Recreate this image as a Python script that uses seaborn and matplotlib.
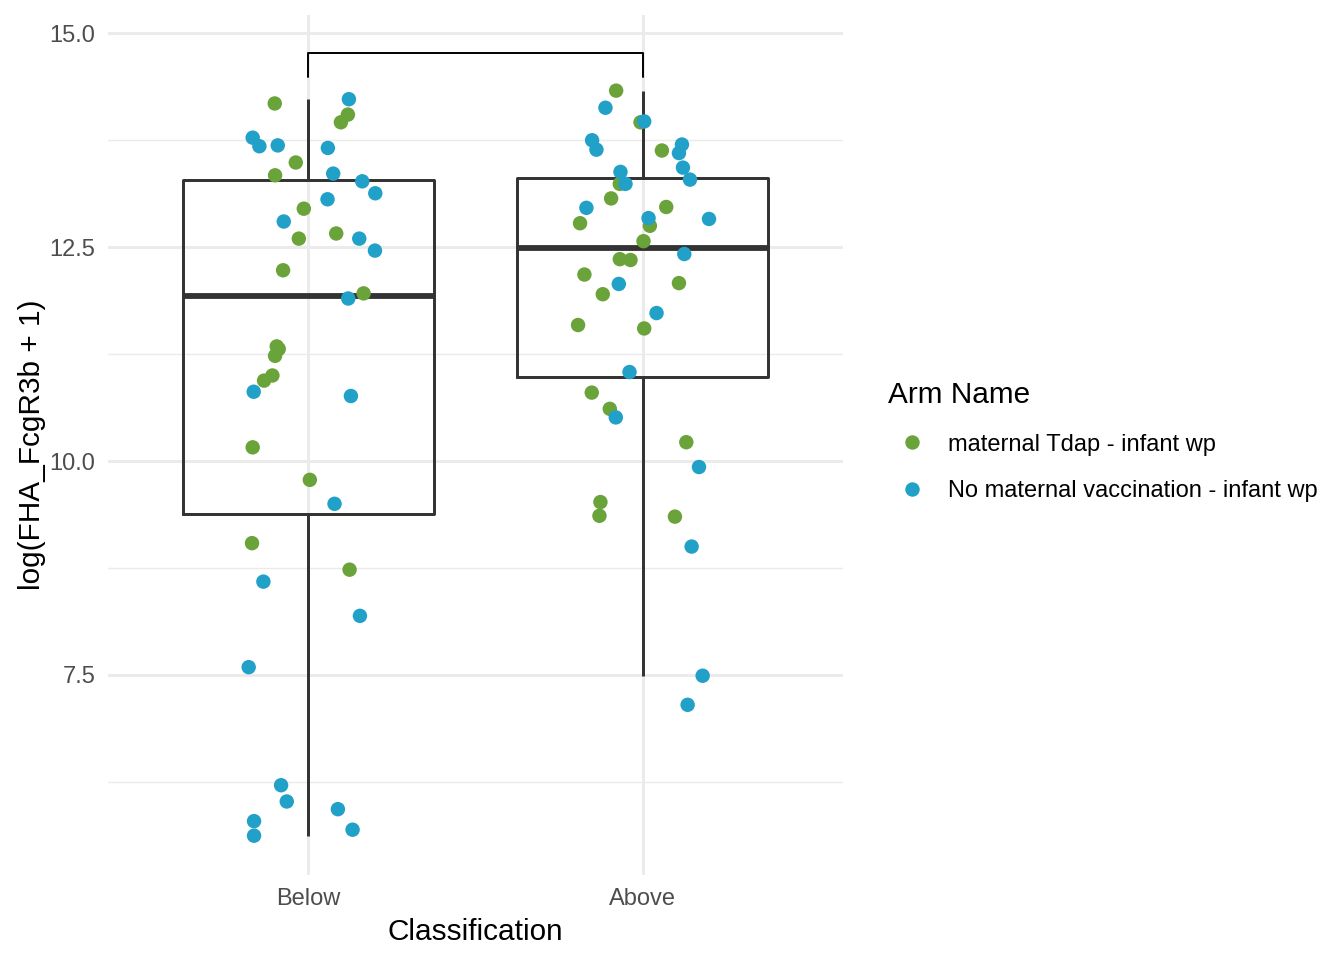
import numpy as np
import pandas as pd
import matplotlib
matplotlib.use("Agg")
import matplotlib.pyplot as plt
from matplotlib.ticker import MultipleLocator, AutoMinorLocator
import seaborn as sns

# groups and arms
classes = ["Below", "Above"]
arms = ["maternal Tdap - infant wp", "No maternal vaccination - infant wp"]
arm_colors = ["#6AA33A", "#21A0C8"]

# values (log scale), with the horizontal jitter of each point
below_tdap = [14.18, 14.05, 13.96, 13.49, 13.34, 12.95, 12.60, 12.66, 12.23, 11.96,
              11.34, 11.31, 11.23, 11.00, 10.94, 10.16, 9.78, 9.04, 8.73]
below_tdap_jit = [-0.101, 0.118, 0.097, -0.038, -0.100, -0.014, -0.029, 0.083, -0.076, 0.165,
                  -0.095, -0.089, -0.100, -0.108, -0.133, -0.167, 0.004, -0.169, 0.123]
below_none = [14.23, 13.78, 13.68, 13.69, 13.66, 13.36, 13.27, 13.13, 13.06, 12.80,
              12.60, 12.46, 11.90, 10.81, 10.76, 9.50, 8.59, 8.19, 7.59, 6.21,
              6.02, 5.93, 5.79, 5.69, 5.62]
below_none_jit = [0.121, -0.167, -0.147, -0.092, 0.058, 0.074, 0.161, 0.200, 0.057, -0.074,
                  0.152, 0.199, 0.119, -0.164, 0.127, 0.078, -0.135, 0.154, -0.179, -0.082,
                  -0.065, 0.088, -0.163, 0.132, -0.163]
above_tdap = [14.33, 13.96, 13.63, 13.24, 13.07, 12.97, 12.78, 12.75, 12.57, 12.36,
              12.35, 12.18, 12.08, 11.95, 11.59, 11.55, 10.80, 10.61, 10.22, 9.52,
              9.36, 9.35]
above_tdap_jit = [-0.079, -0.006, 0.058, -0.068, -0.094, 0.071, -0.187, 0.022, 0.003, -0.068,
                  -0.036, -0.174, 0.109, -0.119, -0.193, 0.005, -0.152, -0.098, 0.131, -0.126,
                  -0.129, 0.097]
above_none = [14.13, 13.97, 13.75, 13.64, 13.70, 13.60, 13.43, 13.29, 13.38, 13.24,
              12.96, 12.84, 12.83, 12.42, 12.07, 11.73, 11.04, 10.51, 9.93, 9.00,
              7.49, 7.15]
above_none_jit = [-0.111, 0.005, -0.151, -0.138, 0.118, 0.109, 0.121, 0.142, -0.066, -0.051,
                  -0.168, 0.018, 0.199, 0.125, -0.071, 0.042, -0.039, -0.080, 0.169, 0.147,
                  0.180, 0.135]

# build one long table, Tdap rows first so the blue points sit on top
parts = []
for cls, arm, vals, jit in [
    ("Below", arms[0], below_tdap, below_tdap_jit),
    ("Above", arms[0], above_tdap, above_tdap_jit),
    ("Below", arms[1], below_none, below_none_jit),
    ("Above", arms[1], above_none, above_none_jit),
]:
    parts.append(pd.DataFrame({"Classification": cls, "Arm Name": arm,
                               "value": vals, "jitter": jit}))
df = pd.concat(parts, ignore_index=True)
df["xpos"] = df["Classification"].map({c: i for i, c in enumerate(classes)}) + df["jitter"]

# bracket height above the groups
bracket_y = 14.77
bracket_tip = 14.49

sns.set_theme(style="white")
plt.rcParams["font.family"] = ["Liberation Sans", "DejaVu Sans"]
plt.rcParams["text.color"] = "black"
plt.rcParams["axes.labelcolor"] = "black"

fig = plt.figure(figsize=(6.72, 4.8), dpi=200)
ax = fig.add_axes([0.0804, 0.0885, 0.5468, 0.8955])

sns.boxplot(data=df, x="Classification", y="value", order=classes, width=0.75,
            fill=False, color="#333333", linewidth=1.07, showfliers=False,
            whis=1.5, medianprops=dict(linewidth=2.1, color="#333333"),
            capprops=dict(visible=False), ax=ax, zorder=2)

sns.scatterplot(data=df, x="xpos", y="value", hue="Arm Name", hue_order=arms,
                palette=arm_colors, s=27, linewidth=0, ax=ax, zorder=3)

# significance bracket
ax.plot([0, 0, 1, 1], [bracket_tip, bracket_y, bracket_y, bracket_tip],
        color="black", linewidth=0.7, zorder=3)

ax.set_xlim(-0.6, 1.6)
ax.set_ylim(5.16, 15.21)
ax.set_xticks(range(len(classes)))
ax.set_xticklabels(classes)
ax.yaxis.set_major_locator(MultipleLocator(2.5))
ax.yaxis.set_minor_locator(AutoMinorLocator(2))
ax.set_yticklabels([f"{t:.1f}" for t in ax.get_yticks()])

ax.grid(True, which="major", color="#EBEBEB", linewidth=1.07)
ax.grid(True, which="minor", axis="y", color="#EBEBEB", linewidth=0.53)
ax.set_axisbelow(True)
for sp in ax.spines.values():
    sp.set_visible(False)
ax.tick_params(axis="both", which="both", length=0, labelsize=8.5,
               labelcolor="#4D4D4D", pad=4.5)

ax.set_xlabel("Classification", fontsize=10.7, color="black", labelpad=3)
ax.set_ylabel("log(FHA_FcgR3b + 1)", fontsize=10.7, color="black", labelpad=1.5)

sns.move_legend(ax, loc="center left", bbox_to_anchor=(0.645, 0.540),
                bbox_transform=fig.transFigure, frameon=False,
                title="Arm Name", fontsize=8.5, title_fontsize=10.7,
                labelspacing=1.05, handletextpad=0.55, markerscale=1.0)
leg = ax.get_legend()
leg._legend_box.align = "left"
leg.get_title().set_color("black")
for t in leg.get_texts():
    t.set_color("black")

fig.savefig("out.png", dpi=200)
